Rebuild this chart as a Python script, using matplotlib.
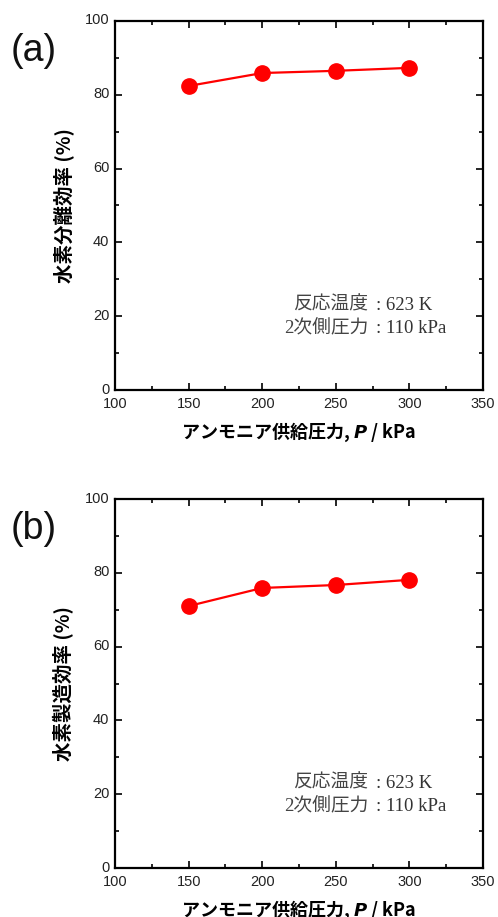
import matplotlib
matplotlib.use("Agg")
import matplotlib.pyplot as plt
from matplotlib.ticker import MultipleLocator
from matplotlib.transforms import ScaledTranslation

# ============================ Data ======================
pressure = [150, 200, 250, 300]
separation_eff = [82.4, 85.9, 86.5, 87.3]
production_eff = [71.0, 75.9, 76.7, 78.1]

x_label = "アンモニア供給圧力, $\\boldsymbol{P}$ / kPa"
y_labels = ["水素分離効率 (%)", "水素製造効率 (%)"]
panel_tags = ["(a)", "(b)"]
cond_names = ["反応温度", "2次側圧力"]
cond_values = [": 623 K", ": 110 kPa"]

sans = ["Liberation Sans", "DejaVu Sans"]
cjk_bold = ["Noto Sans CJK JP", "DejaVu Sans"]
serif = ["Liberation Serif", "Noto Sans CJK JP"]

# ============================ Layout ======================
fig = plt.figure(figsize=(4.98, 9.17), dpi=100)
ax_a = fig.add_axes([0.231, 0.5747, 0.739, 0.4024])
ax_b = fig.add_axes([0.231, 0.0534, 0.739, 0.4024])

# small upward nudge for the y tick labels (keeps "0" clear of "100")
nudge = ScaledTranslation(0, 2 / 100, fig.dpi_scale_trans)

for ax, yvals, ylab, tag in zip([ax_a, ax_b], [separation_eff, production_eff], y_labels, panel_tags):
  ax.plot(pressure, yvals, color="#ff0000", lw=1.6, marker="o", ms=11, mec="#ff0000", mfc="#ff0000")

  ax.set_xlim(100, 350)
  ax.set_ylim(0, 100)
  ax.xaxis.set_major_locator(MultipleLocator(50))
  ax.xaxis.set_minor_locator(MultipleLocator(25))
  ax.yaxis.set_major_locator(MultipleLocator(20))
  ax.yaxis.set_minor_locator(MultipleLocator(10))
  ax.tick_params(which="both", direction="in", top=True, right=True, width=1.2)
  ax.tick_params(which="major", length=5, labelsize=10.5)
  ax.tick_params(axis="x", which="major", pad=5)
  ax.tick_params(axis="y", which="major", pad=4)
  ax.tick_params(which="minor", length=3)
  for lbl in ax.get_xticklabels() + ax.get_yticklabels():
    lbl.set_family(sans)
    lbl.set_color("#222222")
  for lbl in ax.get_yticklabels():
    lbl.set_transform(lbl.get_transform() + nudge)
  for sp in ax.spines.values():
    sp.set_linewidth(1.6)

  ax.set_xlabel(x_label, family=cjk_bold, fontweight="bold", fontsize=13, labelpad=7)
  ax.set_ylabel(ylab, family=cjk_bold, fontweight="bold", fontsize=14, labelpad=8)

  # Conditions box, aligned at the colon
  for k, (nm, val) in enumerate(zip(cond_names, cond_values)):
    ty = 23 - 6.3 * k
    ax.text(272, ty, nm, ha="right", va="center", family=serif, fontsize=13.5, color="#444444")
    ax.text(277.5, ty, val, ha="left", va="center", family=serif, fontsize=13.5, color="#333333")

  # Panel tag
  ax.text(-0.22, 0.919, tag, transform=ax.transAxes, ha="center", va="center",
          family=sans, fontsize=27, color="#111111")

fig.savefig("out.png", dpi=100)
